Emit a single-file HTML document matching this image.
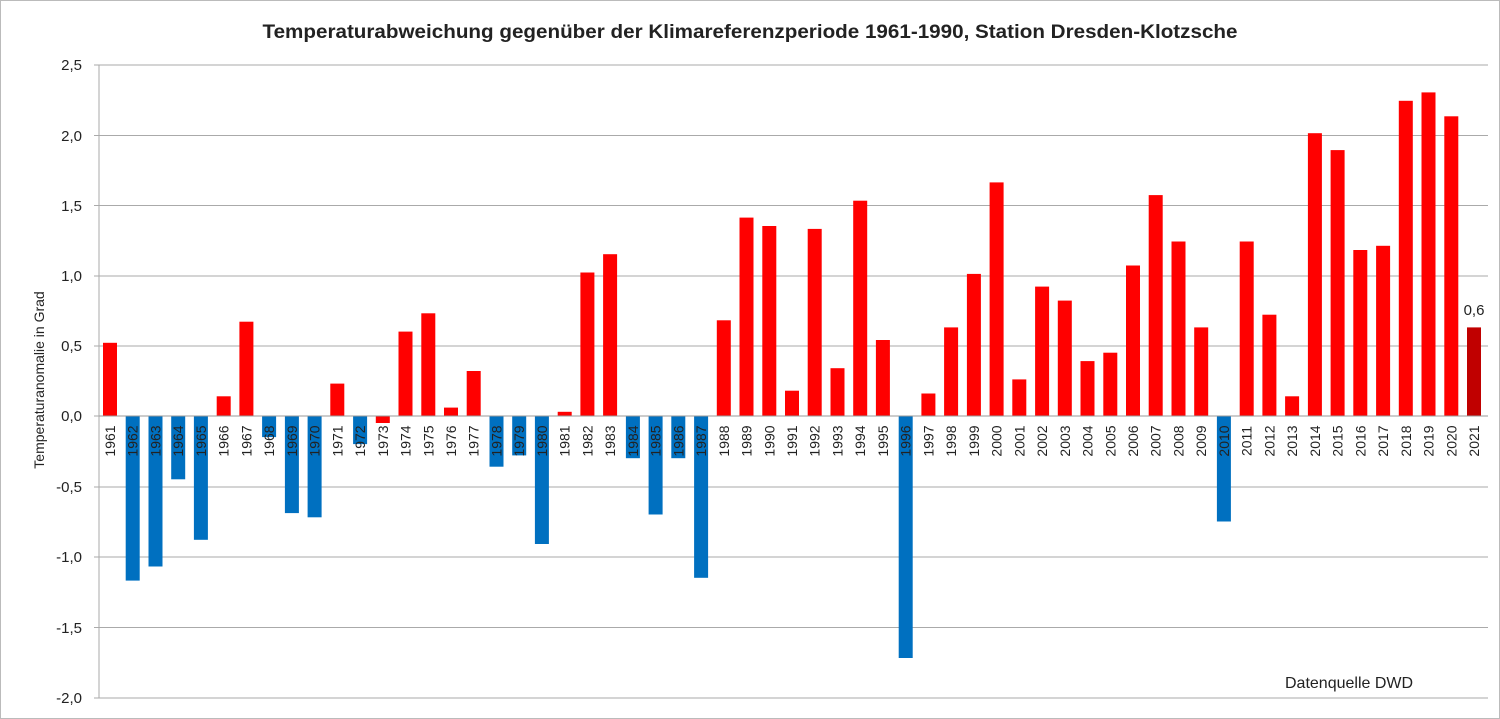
<!DOCTYPE html>
<html><head><meta charset="utf-8"><style>
html,body{margin:0;padding:0;background:#fff}
svg{display:block}
text{font-family:"Liberation Sans",sans-serif;fill:#222}
</style></head><body>
<svg width="1500" height="719" viewBox="0 0 1500 719" xmlns="http://www.w3.org/2000/svg">
<rect x="0.5" y="0.5" width="1499" height="718" fill="#fff" stroke="#bbb"/>
<text x="750" y="38" font-size="19" font-weight="bold" text-anchor="middle" textLength="975" lengthAdjust="spacingAndGlyphs">Temperaturabweichung gegenüber der Klimareferenzperiode 1961-1990, Station Dresden-Klotzsche</text>
<g stroke="#aaa" stroke-width="1">
<line x1="99" x2="1488" y1="65" y2="65"/><line x1="99" x2="1488" y1="135.5" y2="135.5"/><line x1="99" x2="1488" y1="205.5" y2="205.5"/><line x1="99" x2="1488" y1="276" y2="276"/><line x1="99" x2="1488" y1="346" y2="346"/><line x1="99" x2="1488" y1="487" y2="487"/><line x1="99" x2="1488" y1="557" y2="557"/><line x1="99" x2="1488" y1="627.5" y2="627.5"/><line x1="99" x2="1488" y1="698" y2="698"/>
<line x1="99" x2="99" y1="65" y2="698"/>
<line x1="94" x2="99" y1="65" y2="65"/><line x1="94" x2="99" y1="135.5" y2="135.5"/><line x1="94" x2="99" y1="205.5" y2="205.5"/><line x1="94" x2="99" y1="276" y2="276"/><line x1="94" x2="99" y1="346" y2="346"/><line x1="94" x2="99" y1="416" y2="416"/><line x1="94" x2="99" y1="487" y2="487"/><line x1="94" x2="99" y1="557" y2="557"/><line x1="94" x2="99" y1="627.5" y2="627.5"/><line x1="94" x2="99" y1="698" y2="698"/>
</g>
<g font-size="15" text-anchor="end">
<text x="82" y="70">2,5</text><text x="82" y="141">2,0</text><text x="82" y="211">1,5</text><text x="82" y="281">1,0</text><text x="82" y="351">0,5</text><text x="82" y="421">0,0</text><text x="82" y="492">-0,5</text><text x="82" y="562">-1,0</text><text x="82" y="633">-1,5</text><text x="82" y="703">-2,0</text>
</g>
<text transform="translate(44,380) rotate(-90)" font-size="14" text-anchor="middle">Temperaturanomalie in Grad</text>
<g fill="#ff0000">
<rect x="103" y="342.8" width="14" height="73.2"/>
<rect x="216.7" y="396.3" width="14" height="19.7"/>
<rect x="239.4" y="321.7" width="14" height="94.3"/>
<rect x="330.3" y="383.6" width="14" height="32.4"/>
<rect x="375.8" y="416" width="14" height="7"/>
<rect x="398.5" y="331.6" width="14" height="84.4"/>
<rect x="421.3" y="313.3" width="14" height="102.7"/>
<rect x="444" y="407.6" width="14" height="8.4"/>
<rect x="466.7" y="371" width="14" height="45"/>
<rect x="557.7" y="411.8" width="14" height="4.2"/>
<rect x="580.4" y="272.5" width="14" height="143.5"/>
<rect x="603.1" y="254.2" width="14" height="161.8"/>
<rect x="716.8" y="320.3" width="14" height="95.7"/>
<rect x="739.5" y="217.6" width="14" height="198.4"/>
<rect x="762.3" y="226" width="14" height="190"/>
<rect x="785" y="390.7" width="14" height="25.3"/>
<rect x="807.7" y="228.9" width="14" height="187.1"/>
<rect x="830.5" y="368.2" width="14" height="47.8"/>
<rect x="853.2" y="200.7" width="14" height="215.3"/>
<rect x="875.9" y="340" width="14" height="76"/>
<rect x="921.4" y="393.5" width="14" height="22.5"/>
<rect x="944.1" y="327.4" width="14" height="88.6"/>
<rect x="966.9" y="273.9" width="14" height="142.1"/>
<rect x="989.6" y="182.4" width="14" height="233.6"/>
<rect x="1012.3" y="379.4" width="14" height="36.6"/>
<rect x="1035.1" y="286.6" width="14" height="129.4"/>
<rect x="1057.8" y="300.6" width="14" height="115.4"/>
<rect x="1080.5" y="361.1" width="14" height="54.9"/>
<rect x="1103.3" y="352.7" width="14" height="63.3"/>
<rect x="1126" y="265.5" width="14" height="150.5"/>
<rect x="1148.7" y="195.1" width="14" height="220.9"/>
<rect x="1171.5" y="241.5" width="14" height="174.5"/>
<rect x="1194.2" y="327.4" width="14" height="88.6"/>
<rect x="1239.7" y="241.5" width="14" height="174.5"/>
<rect x="1262.4" y="314.7" width="14" height="101.3"/>
<rect x="1285.1" y="396.3" width="14" height="19.7"/>
<rect x="1307.9" y="133.2" width="14" height="282.8"/>
<rect x="1330.6" y="150.1" width="14" height="265.9"/>
<rect x="1353.3" y="250" width="14" height="166"/>
<rect x="1376.1" y="245.8" width="14" height="170.2"/>
<rect x="1398.8" y="100.8" width="14" height="315.2"/>
<rect x="1421.5" y="92.4" width="14" height="323.6"/>
<rect x="1444.3" y="116.3" width="14" height="299.7"/>
<rect x="1467" y="327.4" width="14" height="88.6" fill="#c00000"/>
</g>
<g fill="#0070c0">
<rect x="125.7" y="416" width="14" height="164.6"/>
<rect x="148.5" y="416" width="14" height="150.5"/>
<rect x="171.2" y="416" width="14" height="63.3"/>
<rect x="193.9" y="416" width="14" height="123.8"/>
<rect x="262.1" y="416" width="14" height="21.1"/>
<rect x="284.9" y="416" width="14" height="97.1"/>
<rect x="307.6" y="416" width="14" height="101.3"/>
<rect x="353.1" y="416" width="14" height="28.1"/>
<rect x="489.5" y="416" width="14" height="50.7"/>
<rect x="512.2" y="416" width="14" height="39.4"/>
<rect x="534.9" y="416" width="14" height="128"/>
<rect x="625.9" y="416" width="14" height="42.2"/>
<rect x="648.6" y="416" width="14" height="98.5"/>
<rect x="671.3" y="416" width="14" height="42.2"/>
<rect x="694.1" y="416" width="14" height="161.8"/>
<rect x="898.7" y="416" width="14" height="242"/>
<rect x="1216.9" y="416" width="14" height="105.5"/>
</g>
<line x1="99" x2="1488" y1="416" y2="416" stroke="#999"/>
<text x="1474" y="315" font-size="15" text-anchor="middle">0,6</text>
<text x="1285" y="688" font-size="16">Datenquelle DWD</text>
<g font-size="14" text-anchor="middle">
<text transform="translate(115,441) rotate(-90)">1961</text>
<text transform="translate(137.7,441) rotate(-90)">1962</text>
<text transform="translate(160.5,441) rotate(-90)">1963</text>
<text transform="translate(183.2,441) rotate(-90)">1964</text>
<text transform="translate(205.9,441) rotate(-90)">1965</text>
<text transform="translate(228.7,441) rotate(-90)">1966</text>
<text transform="translate(251.4,441) rotate(-90)">1967</text>
<text transform="translate(274.1,441) rotate(-90)">1968</text>
<text transform="translate(296.9,441) rotate(-90)">1969</text>
<text transform="translate(319.6,441) rotate(-90)">1970</text>
<text transform="translate(342.3,441) rotate(-90)">1971</text>
<text transform="translate(365.1,441) rotate(-90)">1972</text>
<text transform="translate(387.8,441) rotate(-90)">1973</text>
<text transform="translate(410.5,441) rotate(-90)">1974</text>
<text transform="translate(433.3,441) rotate(-90)">1975</text>
<text transform="translate(456,441) rotate(-90)">1976</text>
<text transform="translate(478.7,441) rotate(-90)">1977</text>
<text transform="translate(501.5,441) rotate(-90)">1978</text>
<text transform="translate(524.2,441) rotate(-90)">1979</text>
<text transform="translate(546.9,441) rotate(-90)">1980</text>
<text transform="translate(569.7,441) rotate(-90)">1981</text>
<text transform="translate(592.4,441) rotate(-90)">1982</text>
<text transform="translate(615.1,441) rotate(-90)">1983</text>
<text transform="translate(637.9,441) rotate(-90)">1984</text>
<text transform="translate(660.6,441) rotate(-90)">1985</text>
<text transform="translate(683.3,441) rotate(-90)">1986</text>
<text transform="translate(706.1,441) rotate(-90)">1987</text>
<text transform="translate(728.8,441) rotate(-90)">1988</text>
<text transform="translate(751.5,441) rotate(-90)">1989</text>
<text transform="translate(774.3,441) rotate(-90)">1990</text>
<text transform="translate(797,441) rotate(-90)">1991</text>
<text transform="translate(819.7,441) rotate(-90)">1992</text>
<text transform="translate(842.5,441) rotate(-90)">1993</text>
<text transform="translate(865.2,441) rotate(-90)">1994</text>
<text transform="translate(887.9,441) rotate(-90)">1995</text>
<text transform="translate(910.7,441) rotate(-90)">1996</text>
<text transform="translate(933.4,441) rotate(-90)">1997</text>
<text transform="translate(956.1,441) rotate(-90)">1998</text>
<text transform="translate(978.9,441) rotate(-90)">1999</text>
<text transform="translate(1001.6,441) rotate(-90)">2000</text>
<text transform="translate(1024.3,441) rotate(-90)">2001</text>
<text transform="translate(1047.1,441) rotate(-90)">2002</text>
<text transform="translate(1069.8,441) rotate(-90)">2003</text>
<text transform="translate(1092.5,441) rotate(-90)">2004</text>
<text transform="translate(1115.3,441) rotate(-90)">2005</text>
<text transform="translate(1138,441) rotate(-90)">2006</text>
<text transform="translate(1160.7,441) rotate(-90)">2007</text>
<text transform="translate(1183.5,441) rotate(-90)">2008</text>
<text transform="translate(1206.2,441) rotate(-90)">2009</text>
<text transform="translate(1228.9,441) rotate(-90)">2010</text>
<text transform="translate(1251.7,441) rotate(-90)">2011</text>
<text transform="translate(1274.4,441) rotate(-90)">2012</text>
<text transform="translate(1297.1,441) rotate(-90)">2013</text>
<text transform="translate(1319.9,441) rotate(-90)">2014</text>
<text transform="translate(1342.6,441) rotate(-90)">2015</text>
<text transform="translate(1365.3,441) rotate(-90)">2016</text>
<text transform="translate(1388.1,441) rotate(-90)">2017</text>
<text transform="translate(1410.8,441) rotate(-90)">2018</text>
<text transform="translate(1433.5,441) rotate(-90)">2019</text>
<text transform="translate(1456.3,441) rotate(-90)">2020</text>
<text transform="translate(1479,441) rotate(-90)">2021</text>
</g>
</svg>
</body></html>
